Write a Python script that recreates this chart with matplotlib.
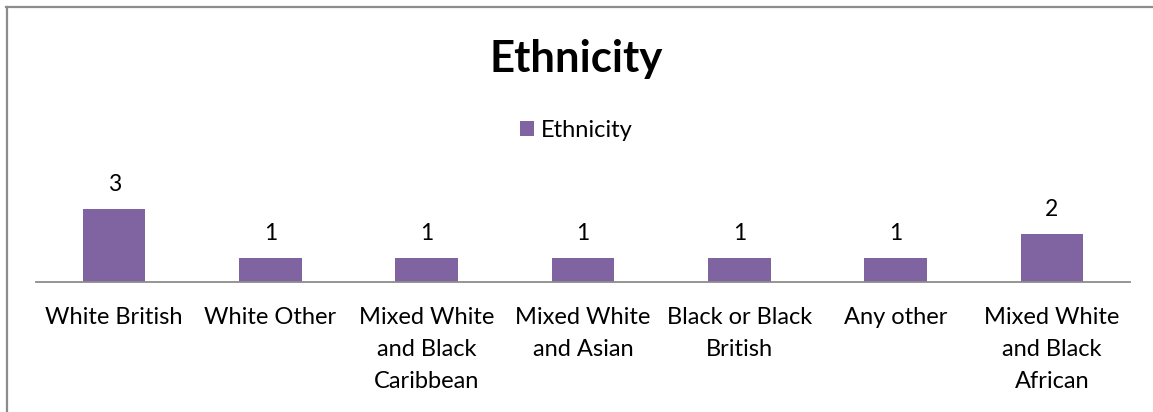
import matplotlib
matplotlib.use("Agg")
import matplotlib.pyplot as plt
from matplotlib.lines import Line2D

categories = ["White British", "White Other", "Mixed White\nand Black\nCaribbean",
              "Mixed White\nand Asian", "Black or Black\nBritish", "Any other",
              "Mixed White\nand Black\nAfrican"]
values = [3, 1, 1, 1, 1, 1, 2]
series_name = "Ethnicity"

purple = "#8064A2"
plt.rcParams['font.family'] = ['Lato', 'DejaVu Sans']

W, H = 1153, 412
fig = plt.figure(figsize=(W / 100, H / 100), dpi=100)

# chart frame (top and left edges visible)
fig.add_artist(Line2D([6 / W, 1], [1 - 7 / H, 1 - 7 / H], color="#8c8c8c", lw=1.6))
fig.add_artist(Line2D([6.5 / W, 6.5 / W], [0, 1 - 7 / H], color="#8c8c8c", lw=1.6))

ax = fig.add_axes([36 / W, 1 - 282 / H, (1130 - 36) / W, 97 / H])
x = list(range(len(values)))
bars = ax.bar(x, values, width=0.4, color=purple, label=series_name)
ax.set_xlim(-0.5, len(values) - 0.5)
ax.set_ylim(0, 4)

for xi, v in zip(x, values):
    ax.annotate(str(v), (xi, v), xytext=(0, 10), textcoords="offset points",
                ha="center", va="bottom", fontsize=16.5)

ax.set_xticks(x)
ax.set_xticklabels(categories, fontsize=17, linespacing=1.66)
ax.tick_params(axis="x", length=0, pad=18)
ax.set_yticks([])
for s in ["top", "right", "left"]:
    ax.spines[s].set_visible(False)
ax.spines["bottom"].set_color("#8c8c8c")
ax.spines["bottom"].set_linewidth(1.3)

fig.text(0.5, 1 - 59 / H, "Ethnicity", ha="center", va="center",
         fontsize=31.5, fontweight="bold")
fig.legend(handles=[bars], labels=[series_name], loc="center",
           bbox_to_anchor=(0.5, 1 - 130 / H), frameon=False, fontsize=17,
           handlelength=0.6, handleheight=0.6, handletextpad=0.3)

fig.savefig("out.png", dpi=100)
